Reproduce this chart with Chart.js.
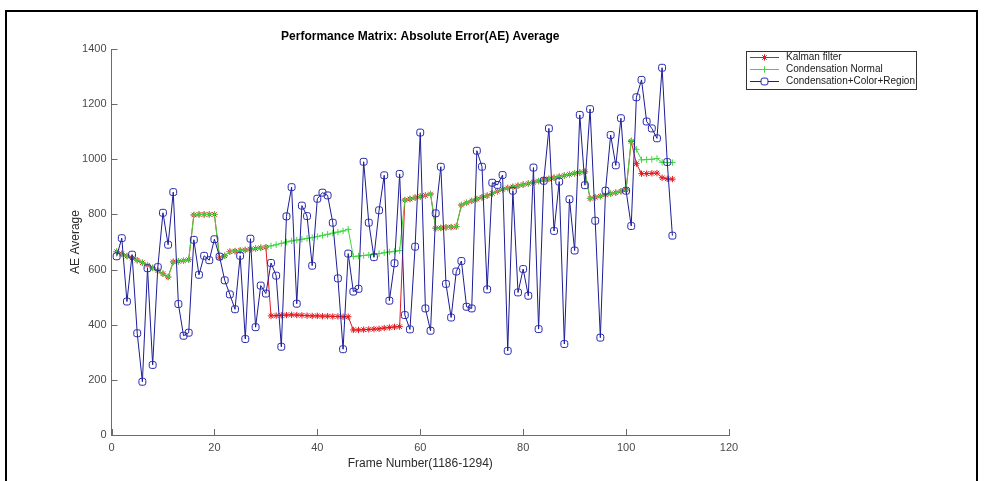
<!DOCTYPE html>
<html>
<head>
<meta charset="utf-8">
<script src="https://cdn.jsdelivr.net/npm/chart.js@4.4.1/dist/chart.umd.min.js"></script>
<style>
  html, body { margin: 0; padding: 0; background: #ffffff; }
  #wrap { position: relative; width: 984px; height: 481px; }
</style>
</head>
<body>
<div id="wrap"><canvas id="c" width="984" height="481"></canvas></div>
<script>
// Frame index (1186-1294 mapped to 1..109)
const frames = [
  1, 2, 3, 4, 5, 6, 7, 8, 9, 10, 11, 12, 13, 14, 15, 16, 17, 18, 19, 20,
  21, 22, 23, 24, 25, 26, 27, 28, 29, 30, 31, 32, 33, 34, 35, 36, 37, 38, 39, 40,
  41, 42, 43, 44, 45, 46, 47, 48, 49, 50, 51, 52, 53, 54, 55, 56, 57, 58, 59, 60,
  61, 62, 63, 64, 65, 66, 67, 68, 69, 70, 71, 72, 73, 74, 75, 76, 77, 78, 79, 80,
  81, 82, 83, 84, 85, 86, 87, 88, 89, 90, 91, 92, 93, 94, 95, 96, 97, 98, 99, 100,
  101, 102, 103, 104, 105, 106, 107, 108, 109
];

// Absolute error average per frame
const kalmanFilter = [
  665, 657, 649, 642, 634, 625, 616, 606, 596, 585, 573,
  628, 630, 632, 636,
  798, 800, 800, 800, 800,
  643, 650,
  665, 667, 669, 671, 674, 676, 679, 681,
  432, 433, 434, 435, 436, 435, 434, 433, 432, 432, 431, 431, 430, 430, 429, 429,
  381, 381, 382, 383, 384, 385, 388, 390, 392, 393,
  852, 856, 861, 865, 869, 874,
  750, 751, 753, 754, 756,
  834, 842, 849, 856, 862, 868, 876, 884, 891, 896, 900, 904, 908, 912, 917, 921, 925, 929, 933, 937, 941, 945, 949, 952, 955,
  858, 862, 866, 871, 875, 879, 884, 889,
  1065, 984, 948, 948, 949, 950, 933, 929, 928
];

const condensationNormal = [
  665, 657, 649, 642, 634, 625, 616, 606, 596, 585, 573,
  628, 630, 632, 636,
  798, 800, 800, 800, 800,
  643, 650,
  665, 667, 669, 671, 674, 676, 679, 681,
  686, 690, 695, 700, 704, 707, 710, 713, 716, 720, 724, 728, 732, 736, 740, 746,
  647, 649, 651, 653, 655, 658, 661, 664, 666, 669,
  852, 856, 861, 865, 869, 874,
  750, 751, 753, 754, 756,
  834, 842, 849, 856, 862, 868, 876, 884, 891, 896, 900, 904, 908, 912, 917, 921, 925, 929, 933, 937, 941, 945, 949, 952, 955,
  858, 862, 866, 871, 875, 879, 884, 889,
  1068, 1036, 998, 999, 1000, 1003, 989, 988, 988
];

const condensationColorRegion = [
  648, 714, 484, 654, 369, 193, 605, 254, 609, 806,
  690, 881, 475, 360, 371, 708, 581, 650, 634, 710,
  647, 561, 510, 456, 650, 348, 712, 391, 542, 513,
  624, 578, 320, 793, 899, 476, 832, 794, 614, 857,
  879, 869, 770, 568, 311, 658, 520, 530, 991, 770,
  645, 815, 942, 487, 623, 947, 435, 383, 683, 1097,
  459, 378, 804, 973, 548, 426, 593, 631, 465, 459,
  1031, 973, 528, 915, 907, 943, 305, 886, 517, 602,
  505, 970, 384, 922, 1112, 740, 919, 330, 855, 669,
  1161, 906, 1182, 777, 353, 886, 1088, 978, 1149, 886,
  758, 1225, 1288, 1137, 1112, 1076, 1332, 990, 723
];

const xTickValues = [0, 20, 40, 60, 80, 100, 120];
const yTickValues = [0, 200, 400, 600, 800, 1000, 1200, 1400];

const seriesNames = ['Kalman filter', 'Condensation Normal', 'Condensation+Color+Region'];

const RED = '#e0191e';
const GREEN = '#3fd63f';
const BLUE = '#1c1c96';
const BLUE_MARK = '#2727b0';
const AXIS = '#6b6b6b';
const TICKTEXT = '#4a4a4a';
const FONT = '"Liberation Sans", Arial, Helvetica, sans-serif';

function pts(values) {
  return frames.map((f, i) => ({ x: f, y: values[i] }));
}

const datasets = [
  {
    label: seriesNames[0], data: pts(kalmanFilter), order: 3,
    borderColor: RED, borderWidth: 1, pointStyle: 'star', pointRadius: 3.2,
    pointBorderColor: RED, pointBorderWidth: 1, pointBackgroundColor: RED, tension: 0
  },
  {
    label: seriesNames[1], data: pts(condensationNormal), order: 2,
    borderColor: GREEN, borderWidth: 1, pointStyle: 'cross', pointRadius: 3.2,
    pointBorderColor: GREEN, pointBorderWidth: 1, pointBackgroundColor: GREEN, tension: 0
  },
  {
    label: seriesNames[2], data: pts(condensationColorRegion), order: 1,
    borderColor: BLUE, borderWidth: 1, pointStyle: 'rectRounded', pointRadius: 4,
    pointBorderColor: BLUE_MARK, pointBorderWidth: 1, pointBackgroundColor: 'rgba(255,255,255,0)', tension: 0
  }
];

// Title, axis names, inward tick marks, legend box and outer frame
const decor = {
  id: 'decor',
  afterDraw(chart) {
    const { ctx, chartArea: a, scales: { x, y } } = chart;
    ctx.save();

    ctx.strokeStyle = AXIS;
    ctx.lineWidth = 1;
    xTickValues.forEach(v => {
      const px = Math.round(x.getPixelForValue(v)) + 0.5;
      ctx.beginPath(); ctx.moveTo(px, a.bottom); ctx.lineTo(px, a.bottom - 6); ctx.stroke();
    });
    yTickValues.forEach(v => {
      const py = Math.round(y.getPixelForValue(v)) + 0.5;
      ctx.beginPath(); ctx.moveTo(a.left, py); ctx.lineTo(a.left + 6, py); ctx.stroke();
    });

    ctx.fillStyle = '#000000';
    ctx.font = 'bold 12px ' + FONT;
    ctx.textAlign = 'center';
    ctx.textBaseline = 'middle';
    ctx.fillText('Performance Matrix: Absolute Error(AE) Average', (a.left + a.right) / 2, 37);

    ctx.fillStyle = '#2b2b2b';
    ctx.font = '12px ' + FONT;
    ctx.fillText('Frame Number(1186-1294)', (a.left + a.right) / 2, 464);
    ctx.save();
    ctx.translate(76, (a.top + a.bottom) / 2);
    ctx.rotate(-Math.PI / 2);
    ctx.fillText('AE Average', 0, 0);
    ctx.restore();

    // legend
    const lx = 746.5, ly = 51.5, lw = 170, lh = 38;
    ctx.fillStyle = '#ffffff';
    ctx.fillRect(lx, ly, lw, lh);
    ctx.strokeStyle = '#333333';
    ctx.lineWidth = 1;
    ctx.strokeRect(lx, ly, lw, lh);
    const rows = [57.5, 69.5, 81.5];
    const colors = [RED, GREEN, BLUE];
    const styles = ['star', 'cross', 'rectRounded'];
    rows.forEach((ry, i) => {
      ctx.strokeStyle = colors[i];
      ctx.lineWidth = 1;
      ctx.beginPath(); ctx.moveTo(750, ry); ctx.lineTo(779, ry); ctx.stroke();
      ctx.fillStyle = i === 2 ? '#ffffff' : colors[i];
      ctx.strokeStyle = i === 2 ? BLUE_MARK : colors[i];
      Chart.helpers.drawPoint(ctx, {
        pointStyle: styles[i], radius: i === 2 ? 4 : 3.2, borderWidth: 1
      }, 764.5, ry);
      ctx.fillStyle = '#1a1a1a';
      ctx.font = '10px ' + FONT;
      ctx.textAlign = 'left';
      ctx.textBaseline = 'middle';
      ctx.fillText(seriesNames[i], 786, ry);
    });

    // outer frame
    ctx.strokeStyle = '#000000';
    ctx.lineWidth = 2;
    ctx.strokeRect(6, 11, 971, 480);
    ctx.restore();
  }
};

new Chart(document.getElementById('c').getContext('2d'), {
  type: 'line',
  data: { datasets },
  plugins: [decor],
  options: {
    responsive: false,
    animation: false,
    devicePixelRatio: 1,
    layout: { padding: { left: 0, top: 49, right: 255, bottom: 0 }, autoPadding: false },
    plugins: { legend: { display: false }, tooltip: { enabled: false }, title: { display: false } },
    scales: {
      x: {
        type: 'linear', min: 0, max: 120,
        afterBuildTicks: s => { s.ticks = xTickValues.map(v => ({ value: v })); },
        ticks: { color: TICKTEXT, font: { family: FONT, size: 11 }, padding: 6, maxRotation: 0,
                 callback: v => String(v) },
        grid: { display: true, drawOnChartArea: false, drawTicks: false },
        border: { display: true, color: AXIS, width: 1 },
        afterFit: s => { s.height = 46; }
      },
      y: {
        type: 'linear', min: 0, max: 1400,
        afterBuildTicks: s => { s.ticks = yTickValues.map(v => ({ value: v })); },
        ticks: { color: TICKTEXT, font: { family: FONT, size: 11 }, padding: 5,
                 callback: v => String(v) },
        grid: { display: true, drawOnChartArea: false, drawTicks: false },
        border: { display: true, color: AXIS, width: 1 },
        afterFit: s => { s.width = 111.5; }
      }
    }
  }
});
</script>
</body>
</html>
